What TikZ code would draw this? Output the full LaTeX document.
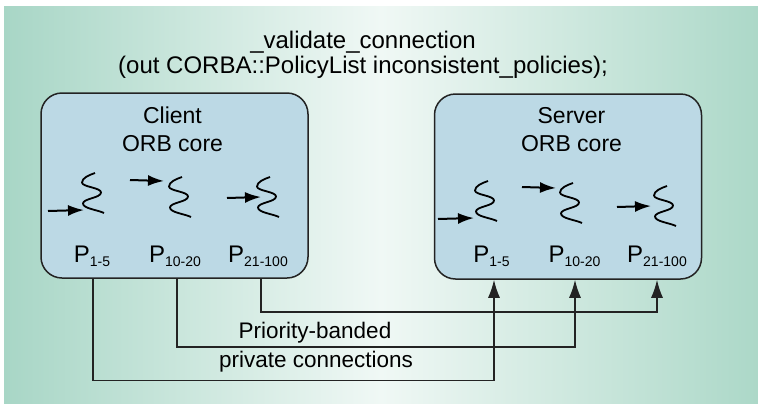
\documentclass[tikz,border=0pt]{standalone}
\usepackage{fontspec}
\setmainfont{Liberation Sans}
\usetikzlibrary{arrows.meta}
\definecolor{bgL}{RGB}{168,214,198}
\definecolor{bgM}{RGB}{240,248,245}
\definecolor{bgR}{RGB}{172,216,200}
\definecolor{boxfill}{RGB}{188,217,229}
\definecolor{edge}{RGB}{35,35,35}
\newcommand\plab[1]{P\raisebox{-4pt}{\fontsize{14}{14}\selectfont #1}}
\tikzset{
  orbbox/.style={draw=edge, line width=1.5pt, fill=boxfill, rounded corners=21pt,
    minimum width=267pt, minimum height=185pt, inner sep=0pt},
  boxtext/.style={font=\fontsize{23}{23}\selectfont, anchor=base, inner sep=0pt},
  titletext/.style={font=\fontsize{24}{24}\selectfont, anchor=base, inner sep=0pt},
  conntext/.style={font=\fontsize{22.5}{22.5}\selectfont, anchor=base, inner sep=0pt},
  plabel/.style={font=\fontsize{24}{24}\selectfont, anchor=base, inner sep=0pt},
  conn/.style={draw=edge, line width=1.5pt, -{Latex[length=18pt,width=12pt]}},
  inarrow/.style={line width=2pt, -{Latex[length=16pt,width=11pt]}},
  squig/.pic={\draw[line width=1.8pt] (0,0) .. controls (-6,2) and (-13,5) .. (-13,9.5)
     .. controls (-13,14) and (6,14.5) .. (6,19.5) .. controls (6,25) and (-12,25.5) .. (-12,30.5)
     .. controls (-12,35.5) and (3,37) .. (9,40);}
}
\begin{document}
\begin{tikzpicture}[x=1pt,y=-1pt]
\useasboundingbox (0,0) rectangle (758,405);
\fill[white] (0,0) rectangle (758,405);
\shade[left color=bgL, right color=bgR, middle color=bgM] (4,6) rectangle (758,403);

% titles
\node[titletext] (t1) at (363,48) {\_validate\_connection};
\node[titletext] (t2) at (363,73) {(out CORBA::PolicyList inconsistent\_policies);};

% boxes
\node[orbbox] (client) at (174.5,185.5) {};
\node[orbbox] (server) at (568,186.5) {};

\node[boxtext] (cl1) at (172.5,123) {Client};
\node[boxtext] (cl2) at (172.5,151) {ORB core};
\node[boxtext] (sv1) at (571.5,123) {Server};
\node[boxtext] (sv2) at (571.5,151) {ORB core};

% squiggles (threads)
\pic at (95,173) {squig};
\pic at (182,177) {squig};
\pic at (270,177) {squig};
\pic at (488,181) {squig};
\pic at (573,183) {squig};
\pic at (667,186) {squig};

% small arrows into threads
\coordinate (ca1s) at (48,211);  \coordinate (ca1e) at (84,210);
\coordinate (ca2s) at (130,180); \coordinate (ca2e) at (164,181);
\coordinate (ca3s) at (227,198); \coordinate (ca3e) at (261,197);
\coordinate (sa1s) at (438,219); \coordinate (sa1e) at (474,218);
\coordinate (sa2s) at (522,187); \coordinate (sa2e) at (556,188);
\coordinate (sa3s) at (617,207); \coordinate (sa3e) at (651,206);
\draw[inarrow] (ca1s) -- (ca1e);
\draw[inarrow] (ca2s) -- (ca2e);
\draw[inarrow] (ca3s) -- (ca3e);
\draw[inarrow] (sa1s) -- (sa1e);
\draw[inarrow] (sa2s) -- (sa2e);
\draw[inarrow] (sa3s) -- (sa3e);

% priority labels
\node[plabel] (cp1) at (92,262) {\plab{1-5}};
\node[plabel] (cp2) at (175,262) {\plab{10-20}};
\node[plabel] (cp3) at (258,262) {\plab{21-100}};
\node[plabel] (sp1) at (491.5,262) {\plab{1-5}};
\node[plabel] (sp2) at (574.5,262) {\plab{10-20}};
\node[plabel] (sp3) at (657,262) {\plab{21-100}};

% connections
\coordinate (c1) at (client.south -| 93,0);
\coordinate (c2) at (client.south -| 177,0);
\coordinate (c3) at (client.south -| 261,0);
\coordinate (s1) at (server.south -| 494,0);
\coordinate (s2) at (server.south -| 575,0);
\coordinate (s3) at (server.south -| 657,0);
\draw[conn] (c3) |- (s3 |- 0,312) -- (s3);
\draw[conn] (c2) |- (s2 |- 0,347) -- (s2);
\draw[conn] (c1) |- (s1 |- 0,380.5) -- (s1);

\node[conntext] (pb) at (315,338) {Priority-banded};
\node[conntext] (pc) at (316,367) {private connections};
\end{tikzpicture}
\end{document}
